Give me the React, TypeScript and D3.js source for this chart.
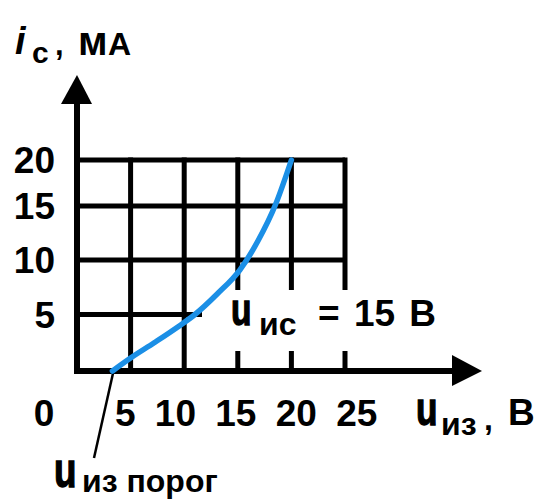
import React from "react";
import * as d3 from "d3";

// ---- data ----
const xTickValues = [5, 10, 15, 20, 25];
const yTickValues = [5, 10, 15, 20];
const gateVoltage = [3.3, 5, 7.2, 9.4, 11, 13.1, 15.2, 16.9, 18.5, 20];
const drainCurrent = [0, 1.15, 2.5, 3.9, 5.0, 6.9, 9.1, 11.8, 15.1, 20];
const thresholdVoltage = 3.5;

const W = 547;
const H = 504;
const FONT = "'Liberation Sans', Arial, Helvetica, sans-serif";

export default function App() {
  const x = d3.scaleLinear().domain([0, 25]).range([77, 345]);
  const y = d3.scaleLinear().domain([0, 5, 10, 15, 20]).range([371, 314.5, 260, 206, 160]);

  const pts = gateVoltage.map((v, i) => [v, drainCurrent[i]] as [number, number]);
  const line = d3
    .line<[number, number]>()
    .x((d) => x(d[0]))
    .y((d) => y(d[1]))
    .curve(d3.curveMonotoneX);

  const x0 = x(0);
  const y0 = y(0);
  const xMax = x(25);
  const yMax = y(20);

  const uStyle = { stroke: "#000", strokeWidth: 1.3 };

  return (
    <svg
      width={W}
      height={H}
      viewBox={`0 0 ${W} ${H}`}
      style={{ position: "absolute", left: 0, top: 0, display: "block", background: "#fff" }}
      fontFamily={FONT}
      fontWeight="bold"
    >
      <rect x={0} y={0} width={W} height={H} fill="#fff" />
      {/* grid: horizontal lines */}
      {yTickValues.map((v) => (
        <line key={"h" + v} x1={x0} x2={xMax} y1={y(v)} y2={y(v)} stroke="#000" strokeWidth={5} />
      ))}
      {/* grid: vertical lines */}
      {xTickValues.map((v) => (
        <line key={"v" + v} x1={x(v)} x2={x(v)} y1={yMax - 2.5} y2={y0} stroke="#000" strokeWidth={5} />
      ))}
      {/* white label box */}
      <rect x={202} y={290} width={243} height={61} fill="#fff" />
      {/* axes */}
      <line x1={x0} x2={x0} y1={100} y2={y0 + 3} stroke="#000" strokeWidth={6} />
      <path d={`M${x0},75 L${x0 - 16},104 L${x0 + 15},104 Z`} fill="#000" />
      <line x1={x0 - 3} x2={455} y1={y0} y2={y0} stroke="#000" strokeWidth={6} />
      <path d={`M482,${y0} L452,${y0 - 16} L452,${y0 + 15} Z`} fill="#000" />

      {/* threshold pointer */}
      <line x1={x(thresholdVoltage) - 1} y1={y0} x2={94} y2={458} stroke="#000" strokeWidth={2.5} />

      {/* curve */}
      <path d={line(pts) || ""} fill="none" stroke="#1b8fe6" strokeWidth={5.5} strokeLinecap="round" />

      {/* y tick labels */}
      {yTickValues.map((v) => (
        <text key={"yl" + v} x={x0 - 22} y={y(v)} dy="0.36em" textAnchor="end" fontSize={37}>
          {v}
        </text>
      ))}
      {/* x tick labels */}
      <text x={x0 - 33} y={426} textAnchor="middle" fontSize={37}>0</text>
      <text x={115} y={426} fontSize={37} wordSpacing={9} style={{ whiteSpace: "pre" }}>
        {xTickValues.join(" ")}
      </text>

      {/* y axis title: i_c, мА */}
      <text x={15} y={54} fontSize={38} fontStyle="italic">i</text>
      <text x={32} y={63} fontSize={30}>с</text>
      <text x={55} y={55} fontSize={31}>,</text>
      <text x={78} y={55} fontSize={40}>м</text>
      <text x={108} y={55} fontSize={32}>А</text>

      {/* x axis title: u_из , В */}
      <text transform="translate(416,425) scale(0.8,1.05)" fontSize={44} {...uStyle}>u</text>
      <text x={441} y={435} fontSize={32}>из</text>
      <text x={484} y={430} fontSize={32}>,</text>
      <text x={508} y={425} fontSize={37}>В</text>

      {/* parameter label: u_ис = 15 В */}
      <text transform="translate(231,325) scale(0.78,1.05)" fontSize={43} {...uStyle}>u</text>
      <text x={259} y={335} fontSize={32}>ис</text>
      <text x={318} y={326} fontSize={37} wordSpacing={4} style={{ whiteSpace: "pre" }}>= 15 В</text>

      {/* threshold label: u_из порог */}
      <text transform="translate(54,487) scale(0.8,1.05)" fontSize={46} {...uStyle}>u</text>
      <text x={82} y={492} fontSize={32}>из порог</text>
    </svg>
  );
}
